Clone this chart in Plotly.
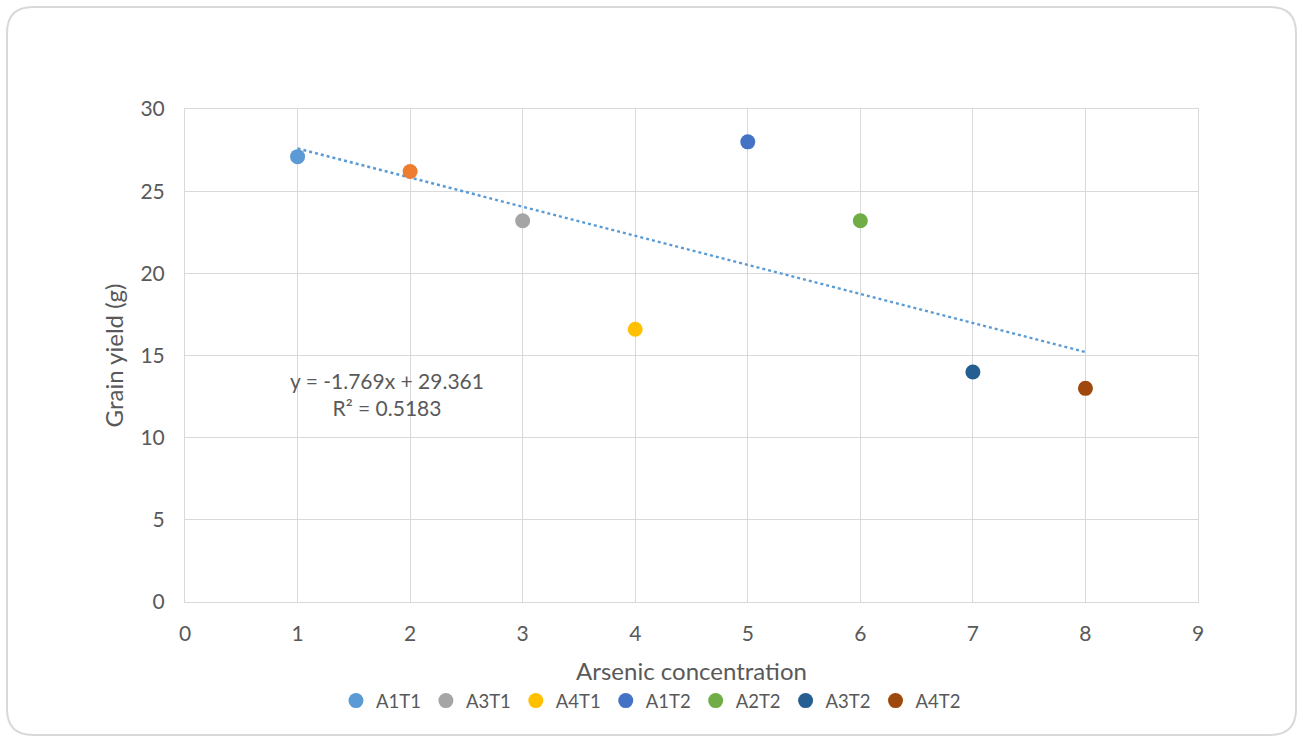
import plotly.graph_objects as go

# Treatment groups plotted against arsenic concentration level
series_names = ["A1T1", "A2T1", "A3T1", "A4T1", "A1T2", "A2T2", "A3T2", "A4T2"]
arsenic_level = [1, 2, 3, 4, 5, 6, 7, 8]
grain_yield = [27.1, 26.2, 23.2, 16.6, 28.0, 23.2, 14.0, 13.0]
series_colors = ["#5B9BD5", "#ED7D31", "#A5A5A5", "#FFC000",
                 "#4472C4", "#70AD47", "#255E91", "#9E480E"]
in_legend = [True, False, True, True, True, True, True, True]

# Linear trendline fitted to the first series
trend_slope = -1.769
trend_intercept = 29.361
trend_r2 = 0.5183
trend_x = [1, 8]

x_ticks = [0, 1, 2, 3, 4, 5, 6, 7, 8, 9]
y_ticks = [0, 5, 10, 15, 20, 25, 30]

W, H = 1303, 738
ML, MR, MT, MB = 185, 105, 109, 136
PW, PH = W - ML - MR, H - MT - MB

TEXT = "#595959"
GRID = "#D9D9D9"
FONT = "Lato, 'Open Sans', sans-serif"

fig = go.Figure()

fig.add_trace(go.Scatter(
    x=trend_x,
    y=[trend_slope * v + trend_intercept for v in trend_x],
    mode="lines",
    line=dict(color="#5B9BD5", width=2.5, dash="dot"),
    showlegend=False,
    hoverinfo="skip",
))

for name, xv, yv, col, leg in zip(series_names, arsenic_level, grain_yield,
                                  series_colors, in_legend):
    fig.add_trace(go.Scatter(
        x=[xv], y=[yv], name=name, mode="markers",
        marker=dict(color=col, size=15),
        showlegend=leg,
    ))

fig.add_annotation(
    x=1.795, y=12.65, xref="x", yref="y",
    text=f"y = {trend_slope}x + {trend_intercept}<br>R² = {trend_r2}",
    showarrow=False, align="center",
    font=dict(family=FONT, size=21, color=TEXT),
)


def px(xp):
    return (xp - ML) / PW


def py(yp):
    return (MT + PH - yp) / PH


# Rounded outer frame of the chart area
x0, x1, y0, y1, r = 7, 1296, 7, 735, 26
path = (
    f"M {px(x0 + r)},{py(y0)} L {px(x1 - r)},{py(y0)} "
    f"Q {px(x1)},{py(y0)} {px(x1)},{py(y0 + r)} "
    f"L {px(x1)},{py(y1 - r)} "
    f"Q {px(x1)},{py(y1)} {px(x1 - r)},{py(y1)} "
    f"L {px(x0 + r)},{py(y1)} "
    f"Q {px(x0)},{py(y1)} {px(x0)},{py(y1 - r)} "
    f"L {px(x0)},{py(y0 + r)} "
    f"Q {px(x0)},{py(y0)} {px(x0 + r)},{py(y0)} Z"
)
fig.add_shape(type="path", path=path, xref="paper", yref="paper",
              line=dict(color=GRID, width=2), layer="below")

axis_common = dict(
    showgrid=True, gridcolor=GRID, gridwidth=1,
    showline=True, linecolor=GRID, linewidth=1, mirror=True,
    zeroline=False, ticks="",
    tickfont=dict(family=FONT, size=21, color=TEXT),
)

fig.update_xaxes(
    range=[0, 9], tickvals=x_ticks, ticklabelstandoff=13,
    title=dict(text="Arsenic concentration", standoff=18,
               font=dict(family=FONT, size=24, color=TEXT)),
    **axis_common,
)
fig.update_yaxes(
    range=[0, 30], tickvals=y_ticks, ticklabelstandoff=15,
    title=dict(text="Grain yield (g)", standoff=10,
               font=dict(family=FONT, size=24, color=TEXT)),
    **axis_common,
)

fig.update_layout(
    width=W, height=H,
    margin=dict(l=ML, r=MR, t=MT, b=MB),
    paper_bgcolor="white", plot_bgcolor="white",
    font=dict(family=FONT, color=TEXT),
    legend=dict(
        orientation="h", x=0.46, xanchor="center",
        y=-0.201, yanchor="middle",
        font=dict(family=FONT, size=18.5, color=TEXT),
        itemwidth=30, tracegroupgap=0,
    ),
)

fig.write_html("out.html")
